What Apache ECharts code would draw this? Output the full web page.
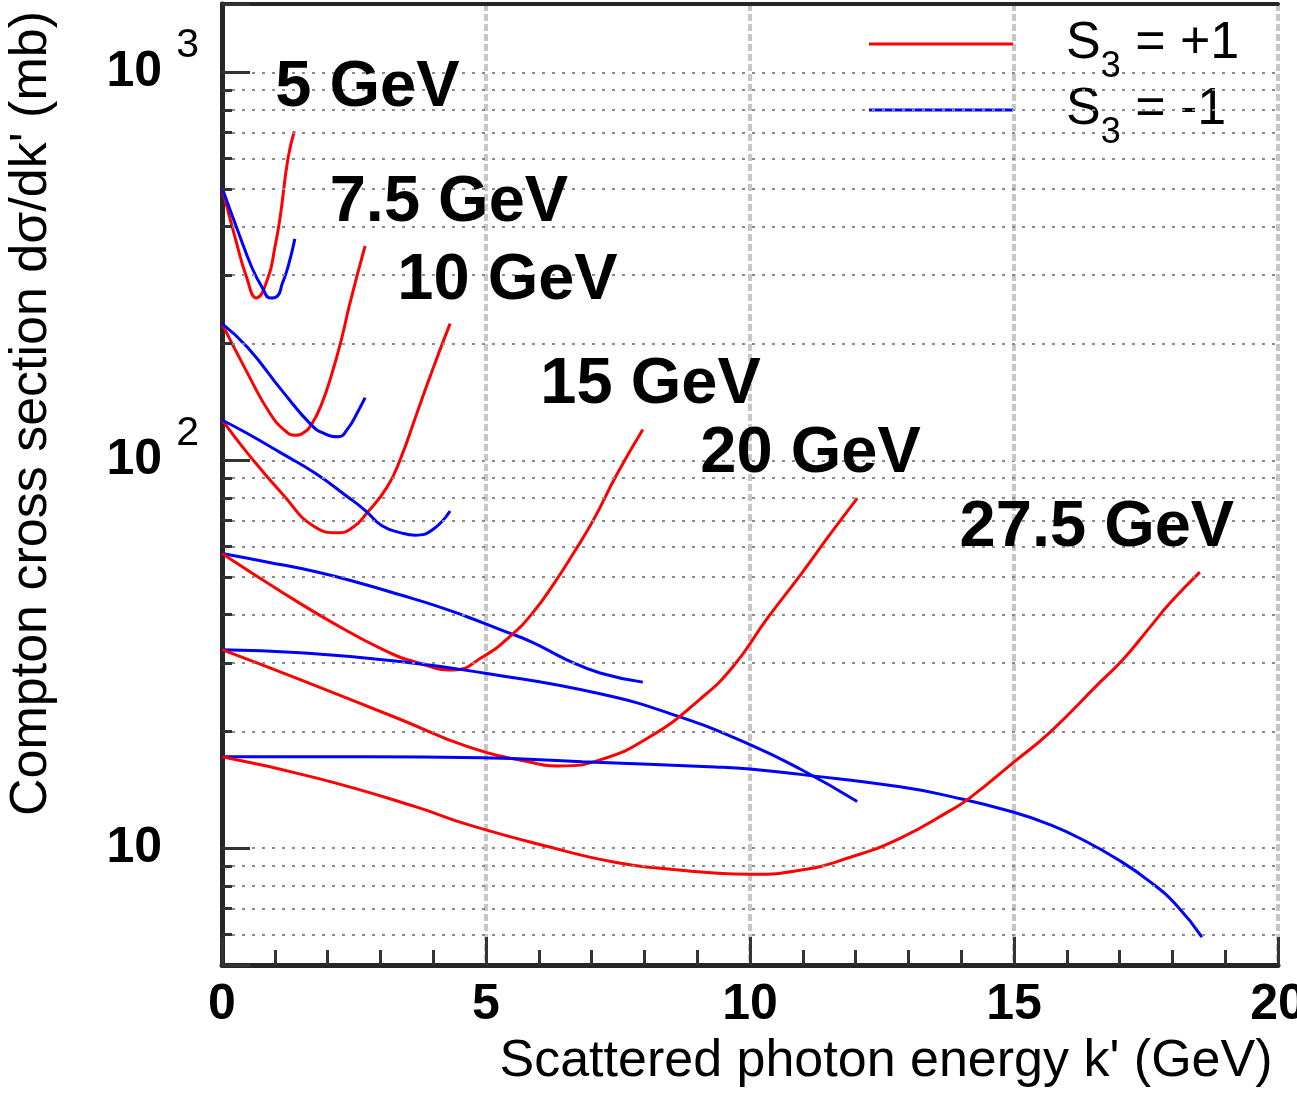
<!DOCTYPE html>
<html>
<head>
<meta charset="utf-8">
<title>Compton cross section</title>
<script src="https://cdn.jsdelivr.net/npm/echarts@6/dist/echarts.min.js"></script>
<style>
  html, body { margin: 0; padding: 0; background: #ffffff; }
  #chart { width: 1297px; height: 1096px; }
</style>
</head>
<body>
<div id="chart"></div>
<script>
// Compton cross section dσ/dk' (mb) versus scattered photon energy k' (GeV),
// one pair of curves per beam energy; each point is [k', dσ/dk'].
// S3 = +1
const plus5   = [[0,505],[0.25,374],[0.47,295],[0.65,262],[0.87,295],[1.0,353],[1.10,422],[1.25,600],[1.37,705]];
const plus7_5 = [[0,225],[0.49,167],[0.91,132],[1.2,119],[1.38,116],[1.55,118],[1.70,124],[1.89,140],[2.08,167],[2.27,207],[2.42,253],[2.71,357]];
const plus10  = [[0,127],[0.49,104],[1.14,82],[1.76,67.3],[2.2,65],[2.5,67.5],[2.74,73],[3.12,85],[3.37,100],[3.69,132],[4.0,173],[4.32,225]];
const plus15  = [[0,57.5],[1.16,45.5],[2.10,38.1],[3.05,32.5],[3.69,30.1],[4.38,28.8],[4.95,31.2],[5.45,35.1],[5.89,40.5],[6.3,48.4],[6.65,57.4],[7.03,70],[7.48,92],[7.97,120]];
const plus20  = [[0,32.5],[1.48,27.2],[3.37,21.5],[4.64,18.3],[5.89,16.6],[6.40,16.3],[7.16,16.9],[8.11,19.4],[9.05,24.2],[9.68,29.4],[10.32,39],[10.95,50.5],[11.5,64],[12.03,79.8]];
const plus27_5 = [[0,17.2],[1.76,15.2],[3.66,12.8],[4.66,11.5],[6.17,10.1],[7.44,9.2],[8.4,8.85],[9.34,8.63],[10.0,8.57],[11.0,8.8],[11.9,9.48],[12.84,10.6],[13.79,12.5],[14.17,13.5],[14.98,16.6],[15.68,19.9],[16.63,26.8],[17.06,30.6],[17.58,37.2],[17.95,42.8],[18.52,51.5]];
// S3 = -1
const minus5   = [[0,505],[0.28,397],[0.57,313],[0.76,279],[0.92,262],[1.05,265],[1.14,285],[1.25,315],[1.38,372]];
const minus7_5 = [[0,225],[0.49,195],[1.14,151],[1.70,123],[1.95,117],[2.2,115],[2.39,121],[2.58,134],[2.71,145]];
const minus10  = [[0,127],[0.49,117],[1.14,104],[1.76,92.7],[2.39,80.3],[2.71,74.3],[3.03,67.8],[3.41,64.9],[3.66,64.1],[3.98,66.1],[4.32,74]];
const minus15  = [[0,57.5],[0.85,54.7],[1.80,51.5],[2.74,47.7],[3.37,45.0],[4.0,42.4],[4.64,39.5],[5.27,36.6],[5.89,33.9],[6.53,30.6],[7.16,28.3],[7.97,26.8]];
const minus20  = [[0,32.5],[1.48,31.9],[3.37,30.3],[4.95,28.3],[7.16,25.0],[8.67,21.8],[10.0,18.5],[10.95,16.0],[12.03,13.2]];
const minus27_5 = [[0,17.2],[2.71,17.2],[4.92,17.1],[6.82,16.7],[9.34,16.2],[10.0,16.0],[10.95,15.5],[12.84,14.4],[13.79,13.6],[14.98,12.4],[15.68,11.5],[16.31,10.5],[16.95,9.38],[17.58,8.19],[18.09,7.10],[18.56,5.90]];

// beam-energy annotations: text, left edge k', vertical centre dσ/dk'
const beamLabels = ['5 GeV', '7.5 GeV', '10 GeV', '15 GeV', '20 GeV', '27.5 GeV'];
const beamLabelK = [1.00, 2.03, 3.31, 6.02, 9.05, 13.96];
const beamLabelSigma = [910, 460, 290, 156, 104, 66.8];

// minor decade lines of the log axis
const minorSigma = [6, 7, 8, 9, 20, 30, 40, 50, 60, 70, 80, 90, 200, 300, 400, 500, 600, 700, 800, 900];

const nameUp = 'S3 = +1';
const nameDown = 'S3 = -1';
const RED = '#ff0000';
const BLUE = '#0000ff';
const FRAME = '#262626';
const FONT = 'Liberation Sans, Arial, Helvetica, sans-serif';

function curve(name, color, data) {
  return {
    name: name,
    type: 'line',
    data: data,
    showSymbol: false,
    smooth: 0.5,
    lineStyle: { color: color, width: 3 },
    itemStyle: { color: color },
    z: 4,
    silent: true
  };
}

const chart = echarts.init(document.getElementById('chart'), null, { renderer: 'canvas' });

const series = [
  // dotted minor grid and short minor ticks on the log axis
  {
    name: 'grid',
    type: 'line',
    data: [],
    z: 1,
    silent: true,
    markLine: {
      silent: true,
      symbol: ['none', 'none'],
      label: { show: false },
      animation: false,
      data: minorSigma.map(v => ({ yAxis: v, lineStyle: { color: '#8a8a8a', width: 2, type: [3, 7] } }))
        .concat(minorSigma.map(v => [
          { coord: [0, v], lineStyle: { color: '#333333', width: 3, type: 'solid' } },
          { coord: [0.19, v] }
        ]))
    }
  },
  curve(nameUp, RED, plus5),
  curve(nameDown, BLUE, minus5),
  curve(nameUp, RED, plus7_5),
  curve(nameDown, BLUE, minus7_5),
  curve(nameUp, RED, plus10),
  curve(nameDown, BLUE, minus10),
  curve(nameDown, BLUE, minus15),
  curve(nameUp, RED, plus15),
  curve(nameDown, BLUE, minus20),
  curve(nameUp, RED, plus20),
  curve(nameDown, BLUE, minus27_5),
  curve(nameUp, RED, plus27_5),
  {
    name: 'beam energy',
    type: 'scatter',
    symbolSize: 1,
    itemStyle: { color: 'rgba(0,0,0,0)' },
    silent: true,
    z: 5,
    data: beamLabels.map((t, i) => ({ name: t, value: [beamLabelK[i], beamLabelSigma[i]] })),
    label: {
      show: true,
      position: 'right',
      distance: 0,
      formatter: p => p.name,
      color: '#000',
      opacity: 1,
      fontFamily: FONT,
      fontWeight: 'bold',
      fontSize: 65
    }
  }
];

function isDecade(v) {
  const l = Math.log10(v);
  return Math.abs(l - Math.round(l)) < 1e-6;
}

const frameAxis = {
  axisLine: { show: true, lineStyle: { color: FRAME, width: 4 } },
  axisTick: { show: false },
  axisLabel: { show: false },
  splitLine: { show: false }
};

const option = {
  animation: false,
  backgroundColor: '#ffffff',
  grid: {
    left: 222, top: 4, right: 19, bottom: 131,
    outerBoundsMode: 'none',
    containLabel: false,
    show: false
  },
  legend: {
    data: [nameUp, nameDown],
    orient: 'vertical',
    left: 869,
    top: 18,
    padding: 0,
    itemGap: -1,
    itemWidth: 144,
    itemHeight: 3,
    icon: 'rect',
    selectedMode: false,
    formatter: n => n === nameUp ? '{m|S}{s|3}{m| = +1}' : '{m|S}{s|3}{m| = -1}',
    textStyle: {
      padding: [0, 0, 0, 48],
      color: '#000',
      fontFamily: FONT,
      rich: {
        m: { fontSize: 52, lineHeight: 82, verticalAlign: 'middle', color: '#000', fontFamily: FONT },
        s: { fontSize: 36, lineHeight: 36, verticalAlign: 'bottom', color: '#000', fontFamily: FONT }
      }
    }
  },
  xAxis: [{
    type: 'value',
    min: 0,
    max: 20,
    interval: 5,
    name: "Scattered photon energy k' (GeV)",
    nameLocation: 'middle',
    nameGap: 97,
    nameTextStyle: {
      fontFamily: FONT, fontSize: 52, color: '#000',
      verticalAlign: 'middle', padding: [0, 0, 0, 272]
    },
    axisLine: { show: true, onZero: false, lineStyle: { color: FRAME, width: 5 } },
    axisTick: { show: true, inside: true, length: 28, lineStyle: { color: '#333', width: 3 } },
    minorTick: { show: true, splitNumber: 5, length: 15, lineStyle: { color: '#333', width: 3 } },
    axisLabel: {
      margin: 15,
      fontFamily: FONT, fontWeight: 'bold', fontSize: 50, color: '#000',
      showMinLabel: true, showMaxLabel: true, hideOverlap: false
    },
    splitLine: { show: true, lineStyle: { color: '#c6c6c6', width: 4, type: [7, 3] } }
  }, Object.assign({
    type: 'value', min: 0, max: 20, interval: 5, position: 'top'
  }, frameAxis)],
  yAxis: [{
    type: 'log',
    logBase: 10,
    min: 5,
    max: 1500,
    name: "Compton cross section dσ/dk' (mb)",
    nameLocation: 'middle',
    nameRotate: 90,
    nameGap: 190,
    nameTextStyle: {
      fontFamily: FONT, fontSize: 52, color: '#000',
      verticalAlign: 'middle', padding: [0, 0, 0, 142]
    },
    axisLine: { show: true, onZero: false, lineStyle: { color: FRAME, width: 5 } },
    axisTick: { show: true, inside: true, length: 28, lineStyle: { color: '#333', width: 3 } },
    axisLabel: {
      margin: 23,
      formatter: v => {
        if (!isDecade(v)) return '';
        const e = Math.round(Math.log10(v));
        return e === 1 ? '{b|10}{s|\u00a0}' : '{b|10}{s|' + e + '}';
      },
      rich: {
        b: { fontFamily: FONT, fontWeight: 'bold', fontSize: 50, lineHeight: 94, verticalAlign: 'middle', color: '#000' },
        s: { fontFamily: FONT, fontSize: 41, lineHeight: 41, verticalAlign: 'top', color: '#000', width: 24, padding: [0, 0, 0, 13] }
      }
    },
    splitLine: { show: true, lineStyle: { color: '#8a8a8a', width: 2, type: [3, 7] } }
  }, Object.assign({
    type: 'log', logBase: 10, min: 5, max: 1500, position: 'right'
  }, frameAxis)],
  series: series
};

chart.setOption(option);
</script>
</body>
</html>
